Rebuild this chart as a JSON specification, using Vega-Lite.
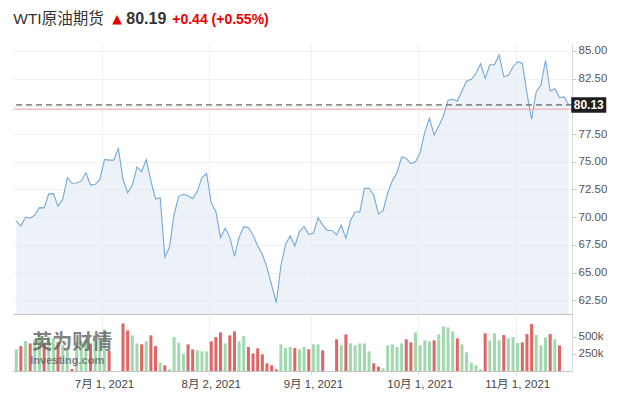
{
 "$schema": "https://vega.github.io/schema/vega-lite/v6.json",
 "padding": {"left": 12, "top": 10, "right": 0, "bottom": 0},
 "background": "white",
 "config": {"view": {"stroke": null}, "font": "Liberation Sans, Arial, sans-serif"},
 "spacing": 0,
 "resolve": {"scale": {"x": "shared", "y": "independent"}},
 "datasets": {"oil": [
  {"d":"2021-06-04","p":69.66,"v":315000,"c":"up"},
  {"d":"2021-06-07","p":69.2,"v":363000,"c":"down"},
  {"d":"2021-06-08","p":70.0,"v":436000,"c":"up"},
  {"d":"2021-06-09","p":69.9,"v":402000,"c":"down"},
  {"d":"2021-06-10","p":70.2,"v":460000,"c":"up"},
  {"d":"2021-06-11","p":70.86,"v":548000,"c":"up"},
  {"d":"2021-06-14","p":70.84,"v":400000,"c":"down"},
  {"d":"2021-06-15","p":72.1,"v":500000,"c":"up"},
  {"d":"2021-06-16","p":72.12,"v":480000,"c":"up"},
  {"d":"2021-06-17","p":71.0,"v":420000,"c":"down"},
  {"d":"2021-06-18","p":71.6,"v":380000,"c":"up"},
  {"d":"2021-06-21","p":73.57,"v":300000,"c":"up"},
  {"d":"2021-06-22","p":73.06,"v":30000,"c":"down"},
  {"d":"2021-06-23","p":73.08,"v":420000,"c":"up"},
  {"d":"2021-06-24","p":73.27,"v":440000,"c":"up"},
  {"d":"2021-06-25","p":74.0,"v":450000,"c":"up"},
  {"d":"2021-06-28","p":72.9,"v":400000,"c":"down"},
  {"d":"2021-06-29","p":72.97,"v":450000,"c":"up"},
  {"d":"2021-06-30","p":73.4,"v":460000,"c":"up"},
  {"d":"2021-07-01","p":75.2,"v":606000,"c":"up"},
  {"d":"2021-07-02","p":75.15,"v":290000,"c":"down"},
  {"d":"2021-07-04","p":75.15,"v":null,"c":null},
  {"d":"2021-07-05","p":76.2,"v":null,"c":null},
  {"d":"2021-07-06","p":73.4,"v":693000,"c":"down"},
  {"d":"2021-07-07","p":72.2,"v":591000,"c":"down"},
  {"d":"2021-07-08","p":72.88,"v":519000,"c":"up"},
  {"d":"2021-07-09","p":74.53,"v":402000,"c":"up"},
  {"d":"2021-07-12","p":74.1,"v":388000,"c":"down"},
  {"d":"2021-07-13","p":75.2,"v":432000,"c":"up"},
  {"d":"2021-07-14","p":73.27,"v":519000,"c":"down"},
  {"d":"2021-07-15","p":71.64,"v":363000,"c":"down"},
  {"d":"2021-07-16","p":71.76,"v":121000,"c":"up"},
  {"d":"2021-07-19","p":66.4,"v":83000,"c":"down"},
  {"d":"2021-07-20","p":67.3,"v":25000,"c":"up"},
  {"d":"2021-07-21","p":70.26,"v":494000,"c":"up"},
  {"d":"2021-07-22","p":71.88,"v":411000,"c":"up"},
  {"d":"2021-07-23","p":72.06,"v":251000,"c":"up"},
  {"d":"2021-07-26","p":71.94,"v":388000,"c":"down"},
  {"d":"2021-07-27","p":71.67,"v":315000,"c":"down"},
  {"d":"2021-07-28","p":72.33,"v":301000,"c":"up"},
  {"d":"2021-07-29","p":73.57,"v":286000,"c":"up"},
  {"d":"2021-07-30","p":73.93,"v":286000,"c":"up"},
  {"d":"2021-08-02","p":71.31,"v":432000,"c":"down"},
  {"d":"2021-08-03","p":70.5,"v":494000,"c":"down"},
  {"d":"2021-08-04","p":68.15,"v":562000,"c":"down"},
  {"d":"2021-08-05","p":69.0,"v":402000,"c":"up"},
  {"d":"2021-08-06","p":68.2,"v":519000,"c":"down"},
  {"d":"2021-08-09","p":66.47,"v":577000,"c":"down"},
  {"d":"2021-08-10","p":68.2,"v":432000,"c":"up"},
  {"d":"2021-08-11","p":69.14,"v":509000,"c":"up"},
  {"d":"2021-08-12","p":69.05,"v":349000,"c":"down"},
  {"d":"2021-08-13","p":68.4,"v":257000,"c":"down"},
  {"d":"2021-08-16","p":67.4,"v":330000,"c":"down"},
  {"d":"2021-08-17","p":66.65,"v":243000,"c":"down"},
  {"d":"2021-08-18","p":65.44,"v":112000,"c":"down"},
  {"d":"2021-08-19","p":63.88,"v":83000,"c":"down"},
  {"d":"2021-08-20","p":62.28,"v":25000,"c":"down"},
  {"d":"2021-08-23","p":65.6,"v":388000,"c":"up"},
  {"d":"2021-08-24","p":67.55,"v":334000,"c":"up"},
  {"d":"2021-08-25","p":68.3,"v":349000,"c":"up"},
  {"d":"2021-08-26","p":67.4,"v":334000,"c":"down"},
  {"d":"2021-08-27","p":68.7,"v":315000,"c":"up"},
  {"d":"2021-08-30","p":69.14,"v":349000,"c":"up"},
  {"d":"2021-08-31","p":68.45,"v":315000,"c":"down"},
  {"d":"2021-09-01","p":68.55,"v":388000,"c":"up"},
  {"d":"2021-09-02","p":69.95,"v":388000,"c":"up"},
  {"d":"2021-09-03","p":69.3,"v":301000,"c":"down"},
  {"d":"2021-09-05","p":68.8,"v":null,"c":null},
  {"d":"2021-09-06","p":68.8,"v":null,"c":null},
  {"d":"2021-09-07","p":68.4,"v":461000,"c":"down"},
  {"d":"2021-09-08","p":69.27,"v":373000,"c":"up"},
  {"d":"2021-09-09","p":68.1,"v":533000,"c":"down"},
  {"d":"2021-09-10","p":69.72,"v":402000,"c":"up"},
  {"d":"2021-09-13","p":70.47,"v":373000,"c":"up"},
  {"d":"2021-09-14","p":70.48,"v":402000,"c":"up"},
  {"d":"2021-09-15","p":72.6,"v":402000,"c":"up"},
  {"d":"2021-09-16","p":72.61,"v":286000,"c":"up"},
  {"d":"2021-09-17","p":72.0,"v":112000,"c":"down"},
  {"d":"2021-09-20","p":70.3,"v":63000,"c":"down"},
  {"d":"2021-09-21","p":70.56,"v":39000,"c":"up"},
  {"d":"2021-09-22","p":72.2,"v":373000,"c":"up"},
  {"d":"2021-09-23","p":73.3,"v":388000,"c":"up"},
  {"d":"2021-09-24","p":74.0,"v":349000,"c":"up"},
  {"d":"2021-09-27","p":75.43,"v":402000,"c":"up"},
  {"d":"2021-09-28","p":75.3,"v":461000,"c":"down"},
  {"d":"2021-09-29","p":74.83,"v":417000,"c":"down"},
  {"d":"2021-09-30","p":75.0,"v":562000,"c":"up"},
  {"d":"2021-10-01","p":75.82,"v":373000,"c":"up"},
  {"d":"2021-10-04","p":77.7,"v":446000,"c":"up"},
  {"d":"2021-10-05","p":78.92,"v":432000,"c":"up"},
  {"d":"2021-10-06","p":77.42,"v":446000,"c":"down"},
  {"d":"2021-10-07","p":78.23,"v":533000,"c":"up"},
  {"d":"2021-10-08","p":79.13,"v":650000,"c":"up"},
  {"d":"2021-10-11","p":80.55,"v":635000,"c":"up"},
  {"d":"2021-10-12","p":80.64,"v":577000,"c":"up"},
  {"d":"2021-10-13","p":80.49,"v":475000,"c":"down"},
  {"d":"2021-10-14","p":81.39,"v":388000,"c":"up"},
  {"d":"2021-10-15","p":82.29,"v":272000,"c":"up"},
  {"d":"2021-10-18","p":82.44,"v":121000,"c":"up"},
  {"d":"2021-10-19","p":82.95,"v":83000,"c":"up"},
  {"d":"2021-10-20","p":83.85,"v":25000,"c":"up"},
  {"d":"2021-10-21","p":82.53,"v":548000,"c":"down"},
  {"d":"2021-10-22","p":83.76,"v":446000,"c":"up"},
  {"d":"2021-10-25","p":83.77,"v":548000,"c":"up"},
  {"d":"2021-10-26","p":84.64,"v":446000,"c":"up"},
  {"d":"2021-10-27","p":82.68,"v":523000,"c":"down"},
  {"d":"2021-10-28","p":82.8,"v":475000,"c":"up"},
  {"d":"2021-10-29","p":83.58,"v":494000,"c":"up"},
  {"d":"2021-11-01","p":84.03,"v":407000,"c":"up"},
  {"d":"2021-11-02","p":83.89,"v":417000,"c":"down"},
  {"d":"2021-11-03","p":81.2,"v":538000,"c":"down"},
  {"d":"2021-11-04","p":78.84,"v":683000,"c":"down"},
  {"d":"2021-11-05","p":81.33,"v":523000,"c":"up"},
  {"d":"2021-11-08","p":81.93,"v":373000,"c":"up"},
  {"d":"2021-11-09","p":84.16,"v":490000,"c":"up"},
  {"d":"2021-11-10","p":81.39,"v":538000,"c":"down"},
  {"d":"2021-11-11","p":81.6,"v":461000,"c":"up"},
  {"d":"2021-11-12","p":80.79,"v":373000,"c":"down"},
  {"d":"2021-11-15","p":80.85,"v":null,"c":null},
  {"d":"2021-11-16","p":80.13,"v":null,"c":null}
 ]},
 "vconcat": [
  {
   "width": 559,
   "height": 270,
   "layer": [
    {
     "data": {"name": "oil"},
     "mark": {"type": "area", "color": "#e5edf5", "clip": true, "line": {"color": "#74a9d8", "strokeWidth": 1.1}},
     "encoding": {
      "x": {"field": "d", "type": "ordinal", "scale": {"type": "band", "paddingInner": 0.35, "paddingOuter": 0.375},
            "axis": {"title": null, "labels": false, "ticks": false, "domain": true, "domainColor": "#c4c4c4", "grid": true, "gridColor": "#f0f0f0", "bandPosition": 0,
                     "values": ["2021-07-01", "2021-08-02", "2021-09-01", "2021-10-01", "2021-11-01"]}},
      "y": {"field": "p", "type": "quantitative", "scale": {"domain": [61.26, 85.63], "zero": false, "nice": false},
            "axis": {"title": null, "orient": "right", "values": [62.5, 65, 67.5, 70, 72.5, 75, 77.5, 80, 82.5, 85], "tickCount": 20, "labelExpr": "datum.value == 80 ? '' : format(datum.value, '.2f')", "labelOverlap": false, "grid": true, "gridColor": "#f0f0f0", "domainColor": "#d9d9d9", "tickColor": "#c8c8c8", "tickSize": 4, "labelFontSize": 11.5, "labelColor": "#555555", "labelPadding": 2, "labelBaseline": "middle"}}
     }
    },
    {
     "data": {"values": [{}]},
     "mark": {"type": "rule", "color": "#f4a0a0", "strokeWidth": 1},
     "encoding": {"y": {"datum": 79.75}}
    },
    {
     "data": {"values": [{}]},
     "mark": {"type": "rule", "color": "#666666", "strokeWidth": 1.2, "strokeDash": [6, 4]},
     "encoding": {"y": {"datum": 80.13}}
    },
    {
     "data": {"values": [{}]},
     "mark": {"type": "point", "shape": "M-1,-0.44L1,-0.44L1,0.44L-1,0.44Z", "size": 1225, "filled": true, "color": "#1e1e1e", "opacity": 1, "xOffset": 20, "clip": false},
     "encoding": {"x": {"datum": "2021-11-16"}, "y": {"datum": 80.13}}
    },
    {
     "data": {"values": [{}]},
     "mark": {"type": "text", "text": "80.13", "color": "white", "fontWeight": "bold", "fontSize": 12, "dx": 20, "align": "center", "baseline": "middle"},
     "encoding": {"x": {"datum": "2021-11-16"}, "y": {"datum": 80.13}}
    },
    {
     "data": {"values": [{}]},
     "mark": {"type": "text", "text": "WTI原油期货", "color": "#333333", "fontSize": 15.5, "dx": -3, "align": "left", "baseline": "alphabetic", "font": "Liberation Sans, Noto Sans CJK SC, sans-serif"},
     "encoding": {"x": {"datum": "2021-06-04"}, "y": {"datum": 87.45}}
    },
    {
     "data": {"values": [{}]},
     "mark": {"type": "text", "text": "▲", "color": "#e60000", "fontSize": 12.5, "dx": 96, "align": "left", "baseline": "alphabetic", "font": "DejaVu Sans"},
     "encoding": {"x": {"datum": "2021-06-04"}, "y": {"datum": 87.55}}
    },
    {
     "data": {"values": [{}]},
     "mark": {"type": "text", "text": "80.19", "color": "#333333", "fontSize": 16, "fontWeight": "bold", "dx": 110, "align": "left", "baseline": "alphabetic"},
     "encoding": {"x": {"datum": "2021-06-04"}, "y": {"datum": 87.45}}
    },
    {
     "data": {"values": [{}]},
     "mark": {"type": "text", "text": "+0.44 (+0.55%)", "color": "#e60000", "fontSize": 14, "fontWeight": "bold", "dx": 156, "align": "left", "baseline": "alphabetic"},
     "encoding": {"x": {"datum": "2021-06-04"}, "y": {"datum": 87.45}}
    }
   ]
  },
  {
   "width": 559,
   "height": 57,
   "layer": [
    {
     "data": {"name": "oil"},
     "mark": {"type": "bar"},
     "encoding": {
      "x": {"field": "d", "type": "ordinal", "scale": {"type": "band", "paddingInner": 0.35, "paddingOuter": 0.375},
            "axis": {"title": null, "labelAngle": 0, "grid": true, "gridColor": "#f0f0f0", "domainColor": "#c4c4c4", "tickColor": "#dddddd", "tickSize": 4, "labelFontSize": 11.5, "labelColor": "#444444", "labelPadding": 3, "bandPosition": 0, "labelOverlap": false,
                     "values": ["2021-07-01", "2021-08-02", "2021-09-01", "2021-10-01", "2021-11-01"],
                     "labelExpr": "toNumber(slice(datum.value, 5, 7)) + '月 ' + toNumber(slice(datum.value, 8, 10)) + ', 2021'", "labelFont": "Liberation Sans, Noto Sans CJK SC, sans-serif"}},
      "y": {"field": "v", "type": "quantitative", "scale": {"domain": [0, 830000], "nice": false},
            "axis": {"title": null, "orient": "right", "values": [250000, 500000], "tickCount": 5, "labelExpr": "datum.value / 1000 + 'k'", "labelOverlap": false, "grid": false, "domainColor": "#d9d9d9", "tickColor": "#c8c8c8", "tickSize": 4, "labelFontSize": 11.5, "labelColor": "#555555", "labelPadding": 2}},
      "color": {"field": "c", "type": "nominal", "scale": {"domain": ["up", "down"], "range": ["#a2d8b0", "#e06565"]}, "legend": null}
     }
    },
    {
     "data": {"values": [{}]},
     "mark": {"type": "text", "text": "英为财情", "color": "#5a5a5a", "opacity": 0.75, "fontSize": 20, "fontWeight": "bold", "dx": 56, "align": "center", "baseline": "middle", "font": "Noto Sans CJK SC"},
     "encoding": {"x": {"datum": "2021-06-04"}, "y": {"datum": 415000}}
    },
    {
     "data": {"values": [{}]},
     "mark": {"type": "text", "text": "Investing.com", "color": "#5a5a5a", "opacity": 0.75, "fontSize": 11, "fontWeight": "bold", "dx": 14, "align": "left", "baseline": "middle"},
     "encoding": {"x": {"datum": "2021-06-04"}, "y": {"datum": 140000}}
    }
   ]
  }
 ]
}
